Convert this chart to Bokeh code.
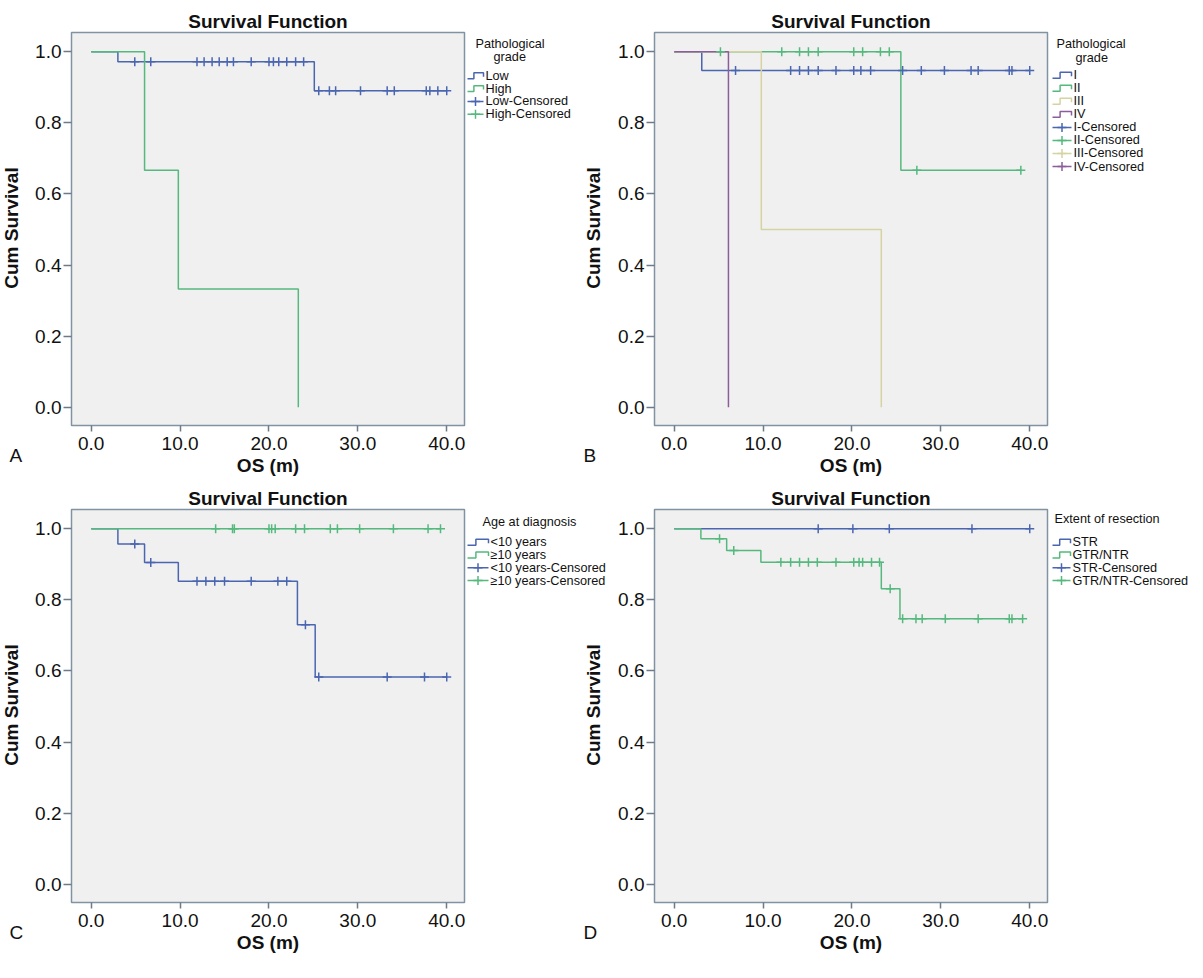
import math
import numpy as np
from bokeh.plotting import figure
from bokeh.layouts import column, row
from bokeh.models import (FixedTicker, PrintfTickFormatter, Range1d,
                          ColumnDataSource, Title)
from bokeh.embed import file_html
from bokeh.resources import INLINE
from bokeh.core.properties import value

BLUE = "#4a66b0"
GREEN = "#55b97e"
BEIGE = "#d6d3a2"
PURPLE = "#8c5d9b"
INK = "#111111"
FONT = "Liberation Sans"

# ---------------- data ----------------
# Panel A : Pathological grade (Low / High)
A_low_t = [0.0, 3.0, 25.1, 40.0]
A_low_s = [1.0, 0.972, 0.890, 0.890]
A_low_cens = [4.9, 6.7, 11.9, 12.7, 13.6, 14.4, 15.3, 16.0, 18.0, 20.0, 20.5,
              21.1, 22.0, 23.0, 23.9, 25.6, 26.8, 27.5, 30.3, 33.3, 34.1, 37.7,
              38.1, 39.0, 40.0]
A_high_t = [0.0, 6.0, 9.8, 23.3]
A_high_s = [1.0, 0.667, 0.333, 0.0]
A_high_cens = []

# Panel B : Pathological grade (I-IV)
B_I_t = [0.0, 3.1, 40.0]
B_I_s = [1.0, 0.947, 0.947]
B_I_cens = [6.9, 13.1, 14.1, 15.1, 16.2, 18.2, 20.2, 21.0, 22.1, 25.7, 27.8,
            30.4, 33.4, 34.2, 37.7, 38.0, 40.0]
B_II_t = [0.0, 25.5, 39.0]
B_II_s = [1.0, 0.667, 0.667]
B_II_cens = [5.2, 12.1, 14.1, 15.1, 16.2, 20.2, 21.2, 23.2, 24.2, 27.3, 39.0]
B_III_t = [0.0, 9.8, 23.3]
B_III_s = [1.0, 0.5, 0.0]
B_III_cens = []
B_IV_t = [0.0, 6.1]
B_IV_s = [1.0, 0.0]
B_IV_cens = []

# Panel C : Age at diagnosis
C_lt_t = [0.0, 3.0, 6.0, 9.8, 23.2, 25.2, 40.0]
C_lt_s = [1.0, 0.957, 0.905, 0.852, 0.730, 0.583, 0.583]
C_lt_cens = [4.9, 6.7, 11.9, 12.9, 13.9, 15.0, 18.0, 21.0, 22.0, 24.1, 25.6,
             33.3, 37.5, 40.0]
C_ge_t = [0.0, 39.3]
C_ge_s = [1.0, 1.0]
C_ge_cens = [14.0, 15.9, 16.1, 20.0, 20.3, 20.7, 23.0, 24.0, 26.9, 27.7, 30.2,
             34.0, 37.9, 39.3]

# Panel D : Extent of resection
D_str_t = [0.0, 40.0]
D_str_s = [1.0, 1.0]
D_str_cens = [16.2, 20.1, 24.2, 33.5, 40.0]
D_gtr_t = [0.0, 3.0, 5.9, 9.75, 23.3, 25.4, 39.2]
D_gtr_s = [1.0, 0.972, 0.939, 0.906, 0.831, 0.747, 0.747]
D_gtr_cens = [5.1, 6.7, 12.0, 13.1, 14.1, 15.1, 16.1, 18.2, 20.2, 20.8, 21.2,
              22.2, 23.1, 24.3, 25.7, 27.2, 27.9, 30.5, 34.2, 37.7, 38.0, 39.2]

X_TICKS = [0, 10, 20, 30, 40]
Y_TICKS = [0.0, 0.2, 0.4, 0.6, 0.8, 1.0]
X_MIN, X_MAX = -2.22, 42.0
Y_MIN, Y_MAX = -0.051, 1.054

# ---------------- layout constants (page pixels) ----------------
FRAME = 393
LEFT_BORDER = 40
W_STRIP, W_MAIN, W_MID, W_RIGHT = 31, 435, 148, 140
TOP_B = [32, 24]
BOTTOM_B = [60, 60]
ROW_TOP = [8, 8 + TOP_B[0] + FRAME + BOTTOM_B[0]]
X_STRIP, X_MID, X_RIGHT = 8, 474, 1057
LEG_FONT = "12.7px"


def surv_at(t, s, xs):
    t = np.asarray(t)
    s = np.asarray(s)
    idx = np.searchsorted(t, np.asarray(xs, dtype=float), side="right") - 1
    idx = np.clip(idx, 0, len(s) - 1)
    return s[idx].tolist()


class Canvas:
    """Plain figure whose frame lines up with the panel frames; addressed in page pixels."""

    def __init__(self, x0, width, r):
        self.x0 = x0
        self.ftop = ROW_TOP[r] + TOP_B[r]
        f = figure(width=width, height=TOP_B[r] + FRAME + BOTTOM_B[r],
                   output_backend="svg", toolbar_location=None,
                   x_axis_type=None, y_axis_type=None,
                   x_range=Range1d(0, width), y_range=Range1d(0, FRAME),
                   min_border_left=0, min_border_right=0,
                   min_border_top=TOP_B[r], min_border_bottom=BOTTOM_B[r])
        f.title.text = ""
        f.outline_line_color = None
        f.background_fill_color = "white"
        f.border_fill_color = "white"
        self.fig = f

    def X(self, px):
        return px - self.x0

    def Y(self, py):
        return self.ftop + FRAME - py

    def text(self, px, py, txt, size=LEG_FONT, bold=False, angle=0.0,
             align="left"):
        self.fig.text(x=[self.X(px)], y=[self.Y(py)], text=[txt], angle=angle,
                      text_align=align, text_baseline="middle",
                      text_font=value(FONT), text_font_size=size,
                      text_font_style="bold" if bold else "normal",
                      text_color=INK)

    def ylabel(self, px):
        self.text(px, self.ftop + FRAME / 2.0, "Cum Survival", size="19px",
                  bold=True, angle=math.pi / 2, align="center")

    def letter(self, px, txt):
        t = Title(text=txt, align="left", offset=px - self.x0, standoff=39,
                  text_font=FONT, text_font_size="19px",
                  text_font_style="normal", text_color=INK)
        self.fig.add_layout(t, "below")

    def legend(self, title_lines, series, icon_x0, text_x, first_y, step):
        for (tx, ty, tt) in title_lines:
            self.text(tx, ty, tt)
        ys = [first_y + i * step for i in range(2 * len(series))]
        i = 0
        ix0, ix1 = icon_x0, text_x - 2
        mid = ix0 + 0.4 * (ix1 - ix0)
        for name, t, s, cens, color in series:
            y = ys[i]
            self.fig.line(x=[self.X(v) for v in (ix0, mid, mid, ix1, ix1)],
                          y=[self.Y(v) for v in (y + 3, y + 3, y - 3, y - 3, y + 1)],
                          line_color=color, line_width=1.5)
            self.text(text_x, y, name)
            i += 1
        for name, t, s, cens, color in series:
            y = ys[i]
            self.fig.line(x=[self.X(ix0), self.X(ix1)], y=[self.Y(y), self.Y(y)],
                          line_color=color, line_width=1.5)
            self.fig.scatter(x=[self.X((ix0 + ix1) / 2.0)], y=[self.Y(y)],
                             marker="cross", size=9, line_color=color,
                             line_width=1.5)
            self.text(text_x, y, name + "-Censored")
            i += 1


def make_main(r, series):
    p = figure(frame_width=FRAME, frame_height=FRAME,
               x_range=Range1d(X_MIN, X_MAX), y_range=Range1d(Y_MIN, Y_MAX),
               output_backend="svg", toolbar_location=None,
               min_border_left=LEFT_BORDER, min_border_right=2,
               min_border_top=TOP_B[r], min_border_bottom=BOTTOM_B[r])
    p.title.text = "Survival Function"
    p.title.align = "center"
    p.title.text_font = FONT
    p.title.text_font_size = "19px"
    p.title.text_font_style = "bold"
    p.title.text_color = INK
    p.title.standoff = 1
    p.background_fill_color = "#f0f0f0"
    p.border_fill_color = "white"
    p.outline_line_color = "#8192a3"
    p.outline_line_width = 1.5
    p.xgrid.visible = False
    p.ygrid.visible = False

    p.xaxis.ticker = FixedTicker(ticks=X_TICKS)
    p.yaxis.ticker = FixedTicker(ticks=Y_TICKS)
    p.xaxis.formatter = PrintfTickFormatter(format="%.1f")
    p.yaxis.formatter = PrintfTickFormatter(format="%.1f")
    for ax in (p.xaxis, p.yaxis):
        ax.axis_line_color = None
        ax.major_tick_line_color = "#6d7b88"
        ax.major_tick_line_width = 1.5
        ax.major_tick_in = 0
        ax.minor_tick_line_color = None
        ax.major_label_text_font = FONT
        ax.major_label_text_font_size = "19px"
        ax.major_label_text_color = INK
    p.xaxis.major_tick_out = 6
    p.xaxis.major_label_standoff = 5
    p.xaxis.axis_label = "OS (m)"
    p.xaxis.axis_label_standoff = 2
    p.xaxis.axis_label_text_font = FONT
    p.xaxis.axis_label_text_font_size = "19px"
    p.xaxis.axis_label_text_font_style = "bold"
    p.xaxis.axis_label_text_color = INK
    p.yaxis.major_tick_out = 8
    p.yaxis.major_label_standoff = 2

    for name, t, s, cens, color in series:
        p.step(t, s, mode="after", line_color=color, line_width=1.5)
    for name, t, s, cens, color in series:
        src = ColumnDataSource(dict(x=list(cens), y=surv_at(t, s, cens)))
        p.scatter("x", "y", source=src, marker="cross", size=9,
                  line_color=color, line_width=1.5)
    return p


SER_A = [("Low", A_low_t, A_low_s, A_low_cens, BLUE),
         ("High", A_high_t, A_high_s, A_high_cens, GREEN)]
SER_B = [("I", B_I_t, B_I_s, B_I_cens, BLUE),
         ("II", B_II_t, B_II_s, B_II_cens, GREEN),
         ("III", B_III_t, B_III_s, B_III_cens, BEIGE),
         ("IV", B_IV_t, B_IV_s, B_IV_cens, PURPLE)]
SER_C = [("<10 years", C_lt_t, C_lt_s, C_lt_cens, BLUE),
         ("\u226510 years", C_ge_t, C_ge_s, C_ge_cens, GREEN)]
SER_D = [("STR", D_str_t, D_str_s, D_str_cens, BLUE),
         ("GTR/NTR", D_gtr_t, D_gtr_s, D_gtr_cens, GREEN)]

# ---- row 1 ----
s1 = Canvas(X_STRIP, W_STRIP, 0)
s1.ylabel(19)
s1.letter(17, "A")
m1 = Canvas(X_MID, W_MID, 0)
m1.legend([(483, 52, "Pathological"), (501, 64.5, "grade")], SER_A,
          475, 493, 83.5, 12.9)
m1.ylabel(601)
m1.letter(591, "B")
r1 = Canvas(X_RIGHT, W_RIGHT, 0)
r1.legend([(1064, 52, "Pathological"), (1083, 66, "grade")], SER_B,
          1060, 1081, 83, 13.1)

# ---- row 2 ----
s2 = Canvas(X_STRIP, W_STRIP, 1)
s2.ylabel(19)
s2.letter(17, "C")
m2 = Canvas(X_MID, W_MID, 1)
m2.legend([(490, 530, "Age at diagnosis")], SER_C, 475, 498, 550, 12.8)
m2.ylabel(601)
m2.letter(591, "D")
r2 = Canvas(X_RIGHT, W_RIGHT, 1)
r2.legend([(1062, 527, "Extent of resection")], SER_D, 1060, 1080, 550, 12.8)

row1 = row(s1.fig, make_main(0, SER_A), m1.fig, make_main(0, SER_B), r1.fig)
row2 = row(s2.fig, make_main(1, SER_C), m2.fig, make_main(1, SER_D), r2.fig)

layout = column(row1, row2)
open("out.html", "w").write(file_html(layout, INLINE))
